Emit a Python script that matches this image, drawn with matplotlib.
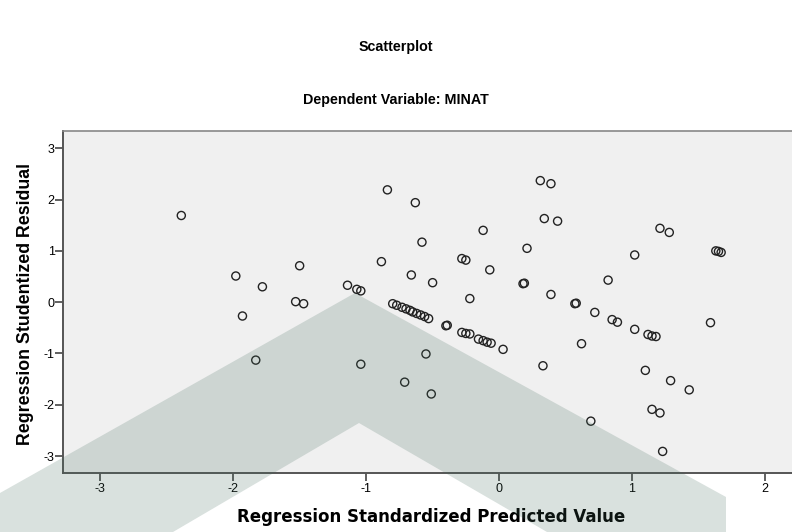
import matplotlib
matplotlib.use("Agg")
import matplotlib.pyplot as plt
from matplotlib.patches import Polygon

plt.rcParams["font.family"] = ["Liberation Sans", "DejaVu Sans"]
plt.rcParams["axes.unicode_minus"] = False

# Regression standardized predicted value / studentized residual
pred = [
    -2.39, -0.84, -1.98, -1.50, -1.78, -0.885, -1.14, -1.07, -1.04, -1.53,
    -1.47, -1.93, -1.83, -1.04, -0.63, -0.58, -0.66, -0.50, -0.12, -0.28,
    -0.25, -0.07, -0.22, 0.21, 0.18, 0.19, 0.31, 0.39, 0.34, 0.44,
    0.39, 0.57, 0.58, 0.72, 0.82, 0.85, 0.89, 1.02, 1.02, 1.12,
    1.15, 1.18, 1.21, 1.28, 1.59, 1.63, 1.65, 1.67,
    -0.80, -0.77, -0.73, -0.70, -0.67, -0.65, -0.62, -0.59, -0.56, -0.53,
    -0.40, -0.39, -0.28, -0.25, -0.22, -0.155, -0.12, -0.09, -0.06, 0.03,
    -0.55, -0.71, -0.51, 0.33, 0.62, 0.69, 1.10, 1.29, 1.43, 1.15,
    1.21, 1.23,
]
resid = [
    1.69, 2.19, 0.51, 0.71, 0.30, 0.79, 0.33, 0.25, 0.22, 0.01,
    -0.03, -0.27, -1.13, -1.21, 1.94, 1.17, 0.53, 0.38, 1.40, 0.85,
    0.82, 0.63, 0.07, 1.05, 0.36, 0.37, 2.37, 2.31, 1.63, 1.58,
    0.15, -0.03, -0.02, -0.20, 0.43, -0.34, -0.39, 0.92, -0.53, -0.63,
    -0.66, -0.67, 1.44, 1.36, -0.40, 1.00, 0.99, 0.97,
    -0.03, -0.06, -0.10, -0.13, -0.16, -0.19, -0.22, -0.25, -0.28, -0.32,
    -0.46, -0.45, -0.59, -0.61, -0.62, -0.72, -0.75, -0.78, -0.80, -0.92,
    -1.01, -1.56, -1.79, -1.24, -0.81, -2.32, -1.33, -1.53, -1.71, -2.09,
    -2.16, -2.91,
]
xticks = [-3, -2, -1, 0, 1, 2]
yticks = [-3, -2, -1, 0, 1, 2, 3]

fig = plt.figure(figsize=(7.92, 5.32), dpi=100)
ax = fig.add_axes([0.0795, 0.111, 0.92, 0.643])
ax.set_facecolor("#f0f0f0")
ax.scatter(pred, resid, s=34, facecolors="none", edgecolors="#222222", linewidths=1.0, zorder=3)

ax.set_xlim(-3.28, 2.2)
ax.set_ylim(-3.33, 3.34)
ax.set_xticks(xticks)
ax.set_yticks(yticks)
ax.tick_params(direction="out", length=5.5, width=1.2, color="#444444", labelsize=9)
ax.tick_params(axis="x", pad=2)
ax.tick_params(axis="y", pad=0.5)
for side in ["left", "bottom"]:
    ax.spines[side].set_color("#555555")
    ax.spines[side].set_linewidth(1.4)
ax.spines["top"].set_color("#888888")
ax.spines["top"].set_linewidth(1.2)
ax.spines["right"].set_visible(False)

fig.text(0.5, 0.912, "Scatterplot", ha="center", va="center", fontsize=10.3, fontweight="bold")
fig.text(0.5, 0.812, "Dependent Variable: MINAT", ha="center", va="center", fontsize=10.3, fontweight="bold")
fig.text(0.544, 0.028, "Regression Standardized Predicted Value", ha="center", va="center",
         fontsize=12, fontweight="bold", family="DejaVu Sans")
fig.text(0.032, 0.429, "Regression Studentized Residual", ha="center", va="center",
         rotation=90, fontsize=12.8, fontweight="bold")

# watermark chevron over the figure (pixel outline, origin top-left)
W, H = 792, 532
chevron_px = [(0, 493), (355, 293), (726, 497), (726, 532), (547, 532), (359, 423), (173, 532), (0, 532)]
fig.patches.append(Polygon([(px / W, 1 - py / H) for px, py in chevron_px], closed=True,
                           transform=fig.transFigure, facecolor="#41695a", alpha=0.2,
                           edgecolor="none", zorder=10))

fig.savefig("out.png", dpi=100)
